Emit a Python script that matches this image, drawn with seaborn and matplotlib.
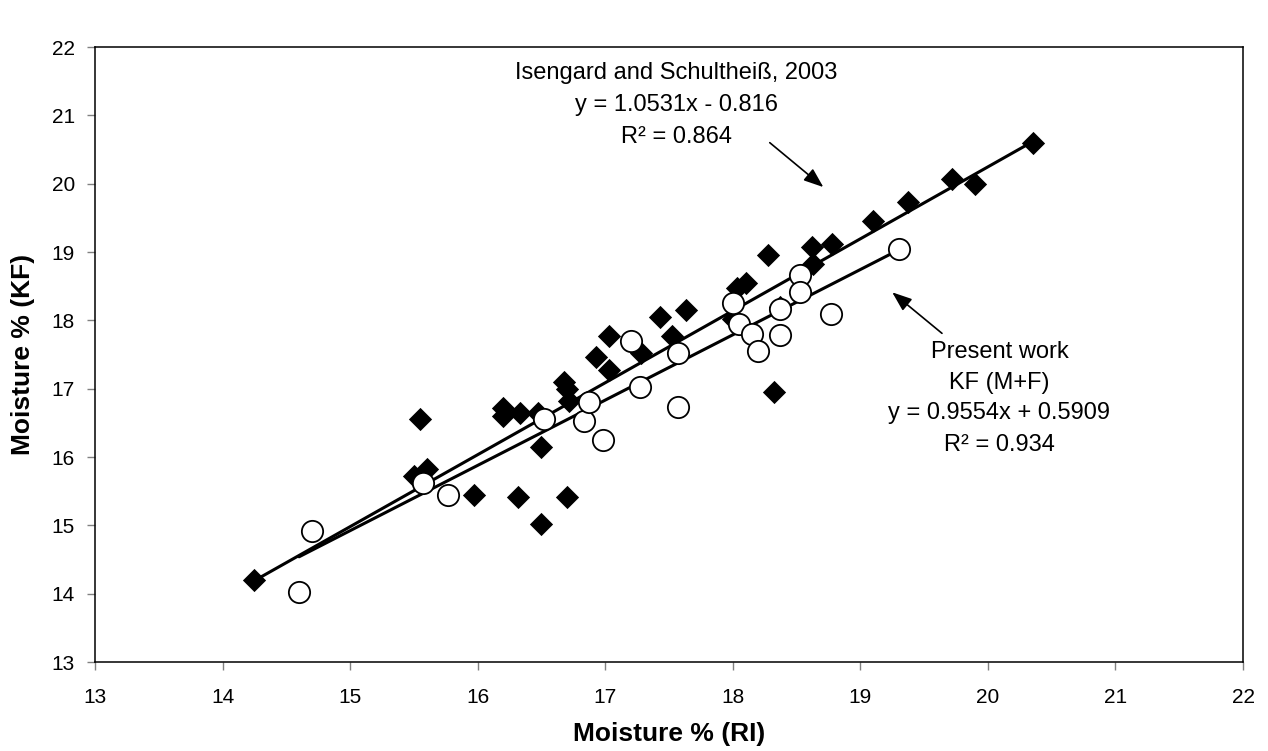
import numpy as np
import pandas as pd
import seaborn as sns
import matplotlib.pyplot as plt

# Isengard and Schultheiss, 2003 (filled diamonds)
ri_isengard = [14.25, 15.5, 15.6, 15.55, 15.97, 16.2, 16.2, 16.32, 16.33, 16.47,
               16.5, 16.5, 16.68, 16.7, 16.72, 16.7, 16.93, 17.03, 17.03, 17.28,
               17.43, 17.52, 17.63, 18.0, 18.03, 18.1, 18.28, 18.32, 18.37, 18.62,
               18.63, 18.78, 19.1, 19.37, 19.72, 19.9, 20.35]
kf_isengard = [14.2, 15.72, 15.82, 16.55, 15.45, 16.72, 16.6, 15.42, 16.65, 16.65,
               16.15, 15.02, 17.1, 17.0, 16.82, 15.42, 17.47, 17.77, 17.27, 17.52,
               18.05, 17.77, 18.15, 18.02, 18.47, 18.55, 18.95, 16.95, 18.2, 19.08,
               18.82, 19.12, 19.45, 19.73, 20.07, 20.0, 20.6]

# Present work (open circles)
ri_present = [14.6, 14.7, 15.57, 15.77, 16.52, 16.83, 16.87, 16.98, 17.2, 17.27,
              17.57, 17.57, 18.0, 18.05, 18.15, 18.2, 18.37, 18.37, 18.53, 18.53,
              18.77, 19.3]
kf_present = [14.02, 14.92, 15.62, 15.45, 16.55, 16.52, 16.8, 16.25, 17.7, 17.02,
              17.52, 16.73, 18.25, 17.95, 17.8, 17.55, 18.17, 17.78, 18.67, 18.42,
              18.1, 19.05]

# trendline equations as printed on the chart
fit_isengard = (1.0531, -0.816)
fit_present = (0.9554, 0.5909)

label_isengard = ["Isengard and Schultheiß, 2003", "y = 1.0531x - 0.816", "R² = 0.864"]
label_present = ["Present work", "KF (M+F)", "y = 0.9554x + 0.5909", "R² = 0.934"]

sns.set_theme(style="ticks")
plt.rcParams['font.family'] = ['Liberation Sans', 'DejaVu Sans']
plt.rcParams['text.color'] = 'black'
plt.rcParams['axes.labelcolor'] = 'black'

fig = plt.figure(figsize=(12.68, 7.51), dpi=100)
ax = fig.add_axes([0.0749, 0.1185, 0.9054, 0.8189])

# trendlines spanning each data range
for ri, fit in [(ri_isengard, fit_isengard), (ri_present, fit_present)]:
    xs = np.array([min(ri), max(ri)])
    line = pd.DataFrame({"x": xs, "y": fit[0] * xs + fit[1]})
    sns.lineplot(data=line, x="x", y="y", color="black", linewidth=2.2, ax=ax, zorder=2)

df_i = pd.DataFrame({"ri": ri_isengard, "kf": kf_isengard})
df_p = pd.DataFrame({"ri": ri_present, "kf": kf_present})
sns.scatterplot(data=df_i, x="ri", y="kf", marker="D", s=140, color="black",
                edgecolor="black", linewidth=0, ax=ax, zorder=3)
sns.scatterplot(data=df_p, x="ri", y="kf", marker="o", s=235, facecolor="white",
                edgecolor="black", linewidth=1.3, ax=ax, zorder=4)

ax.set_xlim(13, 22)
ax.set_ylim(13, 22)
ax.set_xticks(range(13, 23))
ax.set_yticks(range(13, 23))
ax.tick_params(labelsize=15, length=5.5, width=1, color="#808080",
               labelcolor="black", direction="out", pad=9)
ax.tick_params(axis="x", pad=13)
for sp in ax.spines.values():
    sp.set_color("black")
    sp.set_linewidth(1.1)

ax.set_xlabel("Moisture % (RI)", fontsize=19, fontweight="bold", labelpad=11)
ax.set_ylabel("Moisture % (KF)", fontsize=19, fontweight="bold", labelpad=12)

# annotation text, one line at a time
for txt, yy in zip(label_isengard, [21.62, 21.15, 20.68]):
    ax.text(17.555, yy, txt, ha="center", va="center", fontsize=17)
for txt, yy in zip(label_present, [17.54, 17.08, 16.64, 16.18]):
    ax.text(20.09, yy, txt, ha="center", va="center", fontsize=17)

arrow = dict(arrowstyle="-|>,head_length=1.0,head_width=0.38", color="black",
             lw=1.2, shrinkA=0, shrinkB=0)
ax.annotate("", xy=(18.71, 19.95), xytext=(18.29, 20.6), arrowprops=arrow)
ax.annotate("", xy=(19.25, 18.41), xytext=(19.64, 17.81), arrowprops=arrow)

fig.savefig("out.png", dpi=100)
